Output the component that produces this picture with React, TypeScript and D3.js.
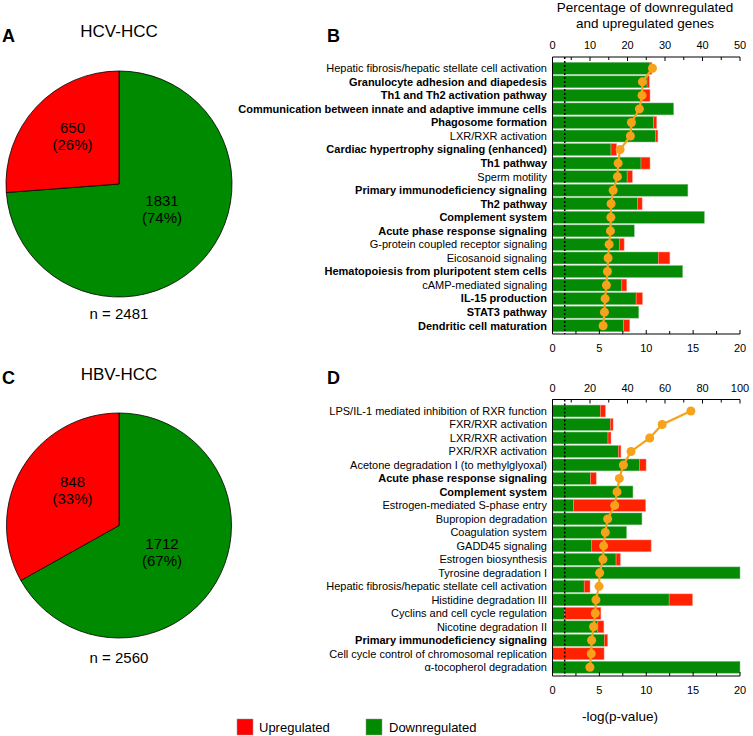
import React from 'react';
import * as d3 from 'd3';

// ---------- DATA ----------
const pieGroups = ['HCV-HCC', 'HBV-HCC'];
const pieDown = [1831, 1712];
const pieUp = [650, 848];

const bCategories = [
  'Hepatic fibrosis/hepatic stellate cell activation',
  'Granulocyte adhesion and diapedesis',
  'Th1 and Th2 activation pathway',
  'Communication between innate and adaptive immune cells',
  'Phagosome formation',
  'LXR/RXR activation',
  'Cardiac hypertrophy signaling (enhanced)',
  'Th1 pathway',
  'Sperm motility',
  'Primary immunodeficiency signaling',
  'Th2 pathway',
  'Complement system',
  'Acute phase response signaling',
  'G-protein coupled receptor signaling',
  'Eicosanoid signaling',
  'Hematopoiesis from pluripotent stem cells',
  'cAMP-mediated signaling',
  'IL-15 production',
  'STAT3 pathway',
  'Dendritic cell maturation',
];
const bBold = [false, true, true, true, true, false, true, true, false, true, true, true, true, false, false, true, false, true, true, true];
const bDownPct = [26.0, 25.2, 23.9, 32.3, 27.0, 27.4, 15.6, 23.6, 19.9, 36.1, 22.6, 40.5, 21.8, 17.8, 28.2, 34.7, 18.5, 22.3, 23.0, 19.0];
const bUpPct = [0.5, 0.6, 2.1, 0, 0.8, 0.7, 1.5, 2.4, 1.4, 0, 1.3, 0, 0, 1.3, 3.1, 0, 1.3, 1.7, 0, 1.6];
const bLogP = [10.66, 9.59, 9.55, 9.27, 8.42, 8.31, 7.21, 7.0, 6.93, 6.47, 6.25, 6.22, 6.18, 6.04, 5.93, 5.86, 5.75, 5.61, 5.54, 5.40];

const dCategories = [
  'LPS/IL-1 mediated inhibition of RXR function',
  'FXR/RXR activation',
  'LXR/RXR activation',
  'PXR/RXR activation',
  'Acetone degradation I (to methylglyoxal)',
  'Acute phase response signaling',
  'Complement system',
  'Estrogen-mediated S-phase entry',
  'Bupropion degradation',
  'Coagulation system',
  'GADD45 signaling',
  'Estrogen biosynthesis',
  'Tyrosine degradation I',
  'Hepatic fibrosis/hepatic stellate cell activation',
  'Histidine degradation III',
  'Cyclins and cell cycle regulation',
  'Nicotine degradation II',
  'Primary immunodeficiency signaling',
  'Cell cycle control of chromosomal replication',
  'α-tocopherol degradation',
];
const dBold = [false, false, false, false, false, true, true, false, false, false, false, false, false, false, false, false, false, true, false, false];
const dDownPct = [25.5, 30.8, 29.6, 35.1, 46.3, 20.3, 42.9, 11.2, 47.7, 39.5, 20.7, 33.9, 100, 16.9, 62.2, 6.4, 24.2, 27.6, 0, 100];
const dUpPct = [2.7, 1.5, 1.6, 1.4, 3.6, 3.0, 0, 38.5, 0, 0, 31.9, 2.3, 0, 3.1, 12.5, 19.4, 3.2, 1.8, 27.5, 0];
const dLogP = [14.76, 11.7, 10.37, 8.38, 7.56, 7.13, 6.88, 6.63, 5.88, 5.63, 5.45, 5.38, 5.03, 4.96, 4.63, 4.56, 4.38, 4.17, 4.13, 3.99];

const bPctTicks = [0, 10, 20, 30, 40, 50];
const dPctTicks = [0, 20, 40, 60, 80, 100];
const pTicks = [0, 5, 10, 15, 20];
const pThreshold = -Math.log10(0.05);

// ---------- STYLE ----------
const FONT = '"Liberation Sans", Arial, Helvetica, sans-serif';
const GREEN = '#058a05';
const RED = '#ff2200';
const PIE_GREEN = '#008a00';
const PIE_RED = '#ff0000';
const ORANGE = '#f7a21b';

type PieLayout = { cx: number; cy: number; r: number; titleY: number; letter: string; letterY: number; upOff: [number, number]; downOff: [number, number]; nY: number };
const pieLayouts: PieLayout[] = [
  { cx: 119, cy: 184, r: 113, titleY: 37, letter: 'A', letterY: 41.5, upOff: [-46.5, -51], downOff: [43, 22], nY: 319 },
  { cx: 119, cy: 525.5, r: 112.5, titleY: 380, letter: 'C', letterY: 384, upOff: [-46.5, -39], downOff: [43, 23], nY: 662.5 },
];

function Pie({ idx }: { idx: number }) {
  const L = pieLayouts[idx];
  const values = [pieDown[idx], pieUp[idx]];
  const total = values[0] + values[1];
  const arcs = d3.pie<number>().sort(null)(values);
  const arc = d3.arc<d3.PieArcDatum<number>>().innerRadius(0).outerRadius(L.r);
  const colors = [PIE_GREEN, PIE_RED];
  const pct = values.map((v) => Math.round((v / total) * 100));
  const offs = [L.downOff, L.upOff];
  return (
    <g>
      <text x={2} y={L.letterY} fontSize={18} fontWeight="bold">{L.letter}</text>
      <text x={L.cx} y={L.titleY} fontSize={17} textAnchor="middle">{pieGroups[idx]}</text>
      <g transform={`translate(${L.cx},${L.cy})`}>
        {arcs.map((a, i) => (
          <path key={i} d={arc(a) || ''} fill={colors[i]} stroke="#000" strokeWidth={0.8} />
        ))}
        {arcs.map((a, i) => (
          <text key={'t' + i} fontSize={15} textAnchor="middle" fill="#000">
            <tspan x={offs[i][0]} y={offs[i][1]}>{values[i]}</tspan>
            <tspan x={offs[i][0]} y={offs[i][1] + 17}>({pct[i]}%)</tspan>
          </text>
        ))}
      </g>
      <text x={L.cx} y={L.nY} fontSize={15} textAnchor="middle">n = {total}</text>
    </g>
  );
}

type BarLayout = { top: number; bottom: number; bandTop: number; bandBottom: number; letterY: number };
const X0 = 552.5;
const X1 = 740;

function BarPanel({ cats, bold, down, up, logp, pctTicks, pctMax, L, letter }: {
  cats: string[]; bold: boolean[]; down: number[]; up: number[]; logp: number[]; pctTicks: number[]; pctMax: number; L: BarLayout; letter: string;
}) {
  const y = d3.scaleBand<string>().domain(cats).range([L.bandTop, L.bandBottom]).paddingInner(0.12).paddingOuter(0.06);
  const xPct = d3.scaleLinear().domain([0, pctMax]).range([X0, X1]);
  const xP = d3.scaleLinear().domain([0, 20]).range([X0, X1]);
  const bw = y.bandwidth();
  const line = d3.line<number>().x((d) => xP(d)).y((_, i) => (y(cats[i]) as number) + bw / 2);
  const pctMinor = d3.range(0, pctMax + 0.001, pctMax / 10);
  const pMinor = d3.range(0, 20.001, 2.5);
  return (
    <g>
      <text x={327} y={L.letterY} fontSize={18} fontWeight="bold">{letter}</text>
      {cats.map((c, i) => {
        const yy = y(c) as number;
        return (
          <g key={c}>
            <rect x={xPct(0)} y={yy} width={xPct(down[i]) - xPct(0)} height={bw} fill={GREEN} stroke="#7fbf7f" strokeWidth={0.5} />
            {up[i] > 0 && (
              <rect x={xPct(down[i])} y={yy} width={xPct(down[i] + up[i]) - xPct(down[i])} height={bw} fill={RED} stroke="#ff9a8a" strokeWidth={0.5} />
            )}
            <text x={547} y={yy + bw / 2} dy="0.35em" fontSize={11} textAnchor="end" fontWeight={bold[i] ? 'bold' : 'normal'}>{c}</text>
          </g>
        );
      })}
      {/* threshold */}
      <line x1={xP(pThreshold)} x2={xP(pThreshold)} y1={L.top} y2={L.bottom} stroke="#000" strokeWidth={1.5} strokeDasharray="2,2" />
      {/* p-value line */}
      <path d={line(logp) || ''} fill="none" stroke={ORANGE} strokeWidth={2.2} />
      {logp.map((v, i) => (
        <circle key={i} cx={xP(v)} cy={(y(cats[i]) as number) + bw / 2} r={4.5} fill={ORANGE} />
      ))}
      {/* axes */}
      <line x1={X0} x2={X1} y1={L.top} y2={L.top} stroke="#000" strokeWidth={1} />
      <line x1={X0} x2={X1} y1={L.bottom} y2={L.bottom} stroke="#000" strokeWidth={1} />
      <line x1={X0} x2={X0} y1={L.top} y2={L.bottom} stroke="#000" strokeWidth={1} />
      {pctMinor.map((t) => (
        <line key={'tm' + t} x1={xPct(t)} x2={xPct(t)} y1={L.top} y2={L.top + (pctTicks.includes(Math.round(t)) ? 4 : 3)} stroke="#000" strokeWidth={1} />
      ))}
      {pctTicks.map((t) => (
        <text key={'tt' + t} x={xPct(t)} y={L.top - 8} fontSize={11} textAnchor="middle">{t}</text>
      ))}
      {pMinor.map((t) => (
        <line key={'bm' + t} x1={xP(t)} x2={xP(t)} y1={L.bottom} y2={L.bottom - (pTicks.includes(t) ? 4 : 3)} stroke="#000" strokeWidth={1} />
      ))}
      {pTicks.map((t) => (
        <text key={'bt' + t} x={xP(t)} y={L.bottom + 18} fontSize={11} textAnchor="middle">{t}</text>
      ))}
    </g>
  );
}

export default function App() {
  return (
    <svg width={753} height={736} style={{ position: 'absolute', left: 0, top: 0, background: '#fff' }} fontFamily={FONT}>
      <rect width={753} height={736} fill="#fff" />
      <Pie idx={0} />
      <Pie idx={1} />
      <text x={645} y={12} fontSize={13.5} textAnchor="middle">Percentage of downregulated</text>
      <text x={645} y={27.5} fontSize={13.5} textAnchor="middle">and upregulated genes</text>
      <BarPanel cats={bCategories} bold={bBold} down={bDownPct} up={bUpPct} logp={bLogP} pctTicks={bPctTicks} pctMax={50}
        L={{ top: 57, bottom: 334, bandTop: 61.5, bandBottom: 332.5, letterY: 41.5 }} letter="B" />
      <BarPanel cats={dCategories} bold={dBold} down={dDownPct} up={dUpPct} logp={dLogP} pctTicks={dPctTicks} pctMax={100}
        L={{ top: 399.5, bottom: 676, bandTop: 404.25, bandBottom: 674, letterY: 383.5 }} letter="D" />
      <text x={620} y={721} fontSize={13.5} textAnchor="middle">-log(p-value)</text>
      <rect x={237} y={719} width={16} height={16} fill={PIE_RED} stroke="#999" strokeWidth={0.5} />
      <text x={259} y={732} fontSize={13}>Upregulated</text>
      <rect x={366} y={719} width={16} height={16} fill={PIE_GREEN} stroke="#999" strokeWidth={0.5} />
      <text x={389} y={732} fontSize={13}>Downregulated</text>
    </svg>
  );
}
